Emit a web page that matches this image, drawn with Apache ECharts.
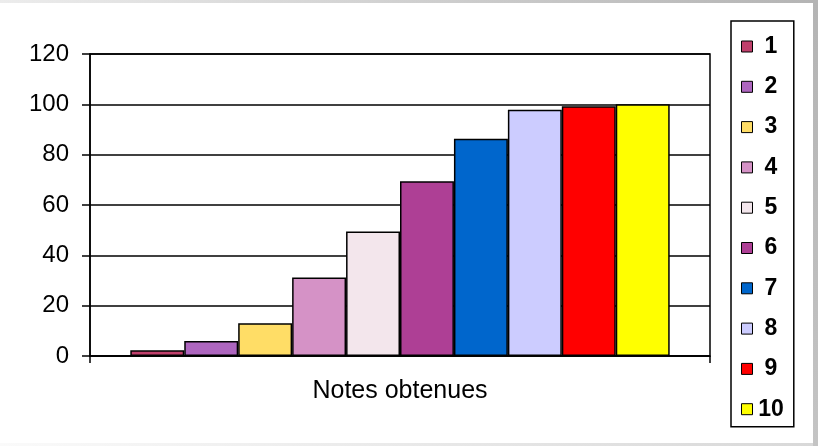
<!DOCTYPE html>
<html>
<head>
<meta charset="utf-8">
<script src="https://cdn.jsdelivr.net/npm/echarts@6/dist/echarts.min.js"></script>
<style>
  html, body { margin: 0; padding: 0; background: #fff; }
  #chart { width: 818px; height: 446px; }
</style>
</head>
<body>
<div id="chart"></div>
<script>
// Single category, one bar per mark (1 to 10)
const categories = ['Notes obtenues'];
const seriesNames = ['1', '2', '3', '4', '5', '6', '7', '8', '9', '10'];
const seriesValues = [2.3, 6, 13, 31.2, 49.5, 69.4, 86.3, 97.8, 99.2, 100];
const seriesColors = ['#c0406c', '#ae66bf', '#ffdd66', '#d592c6', '#f3e6ec',
                      '#ae3f95', '#0066cc', '#ccccff', '#ff0000', '#ffff00'];
const yTicks = { min: 0, max: 120, interval: 20 };

const chart = echarts.init(document.getElementById('chart'), null, { renderer: 'canvas' });

const series = seriesNames.map((name, i) => ({
  name: name,
  type: 'bar',
  data: [seriesValues[i]],
  barGap: '0%',
  barCategoryGap: '13%',
  itemStyle: { color: seriesColors[i], borderColor: '#000', borderWidth: 1.5 },
  emphasis: { disabled: true },
  animation: false
}));

chart.setOption({
  animation: false,
  backgroundColor: '#fff',
  textStyle: { fontFamily: 'Liberation Sans, Arial, sans-serif' },
  grid: {
    left: 90, right: 108, top: 54, bottom: 90,
    show: true, borderColor: '#000', borderWidth: 1.5, backgroundColor: 'transparent'
  },
  legend: {
    orient: 'vertical',
    left: 731, top: 21,
    width: 64, height: 398,
    padding: [14, 10, 6, 10],
    itemWidth: 11, itemHeight: 11,
    itemGap: 17.3,
    borderColor: '#000', borderWidth: 1.5,
    icon: 'rect',
    itemStyle: { borderColor: '#000', borderWidth: 1 },
    selectedMode: false,
    formatter: '{a|{name}}',
    textStyle: {
      color: '#000',
      fontSize: 23,
      rich: {
        a: { width: 27, align: 'center', fontSize: 23, fontWeight: 'bold',
             fontFamily: 'Liberation Sans, Arial, sans-serif', color: '#000' }
      }
    },
    data: seriesNames
  },
  xAxis: {
    type: 'category',
    data: categories,
    axisLine: { lineStyle: { color: '#000', width: 1.5 } },
    axisTick: { show: true, length: 7, lineStyle: { color: '#000', width: 1.5 } },
    axisLabel: { color: '#000', fontSize: 25, margin: 23 },
    splitLine: { show: false }
  },
  yAxis: {
    type: 'value',
    min: yTicks.min, max: yTicks.max, interval: yTicks.interval,
    axisLine: { show: true, lineStyle: { color: '#000', width: 1.5 } },
    axisTick: { show: true, length: 8, lineStyle: { color: '#000', width: 1.5 } },
    axisLabel: { color: '#000', fontSize: 24, margin: 21 },
    splitLine: { show: true, lineStyle: { color: '#000', width: 1.5 } }
  },
  graphic: [
    {
      type: 'rect', silent: true, z: 100,
      shape: { x: 0, y: 0, width: 818, height: 3 },
      style: {
        fill: new echarts.graphic.LinearGradient(0, 0, 1, 0, [
          { offset: 0, color: '#ececec' }, { offset: 1, color: '#b4b4b4' }
        ])
      }
    },
    {
      type: 'rect', silent: true, z: 100,
      shape: { x: 813, y: 0, width: 5, height: 446 },
      style: {
        fill: new echarts.graphic.LinearGradient(0, 0, 0, 1, [
          { offset: 0, color: '#b4b4b4' }, { offset: 1, color: '#c4c4c4' }
        ])
      }
    },
    {
      type: 'rect', silent: true, z: 100,
      shape: { x: 0, y: 443, width: 813, height: 3 },
      style: {
        fill: new echarts.graphic.LinearGradient(0, 0, 1, 0, [
          { offset: 0, color: '#fafafa' }, { offset: 1, color: '#d8d8d8' }
        ])
      }
    }
  ],
  series: series
});
</script>
</body>
</html>
